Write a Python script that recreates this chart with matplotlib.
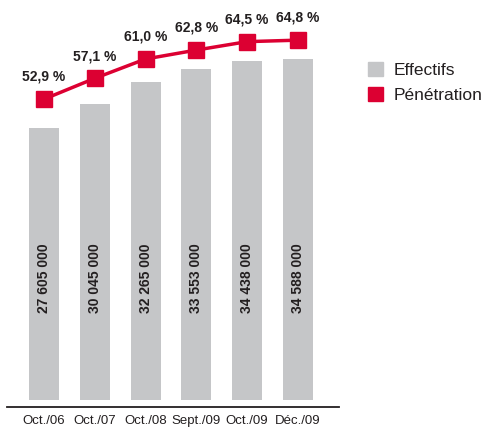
import matplotlib
matplotlib.use("Agg")
import matplotlib.pyplot as plt
from matplotlib.patches import Patch

# Effectifs et taux de pénétration
periodes = ["Oct./06", "Oct./07", "Oct./08", "Sept./09", "Oct./09", "Déc./09"]
effectifs = [27605000, 30045000, 32265000, 33553000, 34438000, 34588000]
penetration = [52.9, 57.1, 61.0, 62.8, 64.5, 64.8]

GRIS = "#c5c6c8"
ROUGE = "#dc0032"
TEXTE = "#231f20"

plt.rcParams["font.family"] = ["Liberation Sans", "DejaVu Sans"]

W, H = 483, 429
fig = plt.figure(figsize=(W / 100, H / 100), dpi=100)

# axes en pixels : ligne de base à y=407, de x=7 à x=339
ax = fig.add_axes([7 / W, (H - 407) / H, (339 - 7) / W, 407 / H])
x = list(range(len(periodes)))
ax.bar(x, effectifs, width=0.59, color=GRIS, zorder=1)
ax.set_xlim(-0.728, 5.81)
ax.set_ylim(-7 * 101450, 400 * 101450)

for xi, v in zip(x, effectifs):
    txt = f"{v:,}".replace(",", " ")
    ax.text(xi, 12.4e6, txt, rotation=90, ha="center", va="center",
            fontsize=10, fontweight="bold", color=TEXTE)

for s in ["top", "right", "left"]:
    ax.spines[s].set_visible(False)
ax.spines["bottom"].set_linewidth(1.3)
ax.spines["bottom"].set_color(TEXTE)
ax.set_yticks([])
ax.set_xticks(x)
ax.set_xticklabels(periodes, fontsize=9.5, color=TEXTE)
ax.tick_params(axis="x", length=0, pad=6)

# taux de pénétration sur un second axe
ax2 = ax.twinx()
ax2.set_ylim(-9.2, 72.9)
ax2.axis("off")
ax2.plot(x, penetration, color=ROUGE, lw=2.5, marker="s", ms=12,
         mfc=ROUGE, mec=ROUGE, zorder=3, clip_on=False)
for xi, p in zip(x, penetration):
    ax2.annotate(f"{p:.1f} %".replace(".", ","), (xi, p), xytext=(0, 16),
                 textcoords="offset points", ha="center", va="center",
                 fontsize=10, fontweight="bold", color=TEXTE)

handles = [Patch(color=GRIS, label="Effectifs"), Patch(color=ROUGE, label="Pénétration")]
fig.legend(handles=handles, loc="upper left", bbox_to_anchor=(368 / W, 1 - 62 / H),
           frameon=False, fontsize=12.5, handlelength=0.85, handleheight=0.85,
           handletextpad=0.6, labelspacing=0.55, borderpad=0, borderaxespad=0,
           labelcolor=TEXTE)

fig.savefig("out.png", dpi=100)
